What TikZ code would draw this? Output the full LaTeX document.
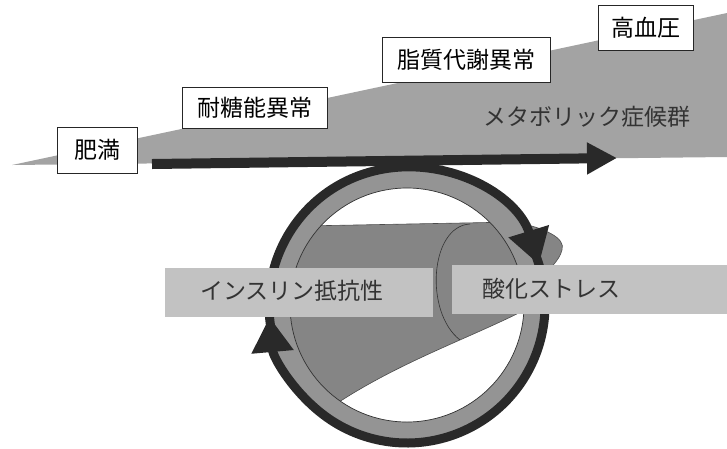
\documentclass[tikz,border=0pt]{standalone}
\usepackage{fontspec}
\setmainfont{Noto Sans CJK JP}
\usetikzlibrary{arrows.meta,calc}

\definecolor{wedgegray}{gray}{0.64}
\definecolor{conegray}{gray}{0.52}
\definecolor{ringgray}{gray}{0.58}
\definecolor{bandgray}{gray}{0.76}
\definecolor{darkline}{gray}{0.16}

\begin{document}
\begin{tikzpicture}[x=1pt, y=-1pt,
        stage/.style={draw=black!85, line width=0.9pt, fill=white, inner sep=0pt,
                      minimum height=45pt, font=\fontsize{23}{23}\selectfont},
        label/.style={inner sep=0pt, text=black!80, font=\fontsize{23}{23}\selectfont},
        flow/.style={draw=darkline, line width=10pt, -{Triangle[length=30pt, width=30pt]}},
        ringarrow/.style={draw=darkline, line width=9pt, -{Triangle[length=35pt, width=40pt]}}]
    \useasboundingbox (0,0) rectangle (727,448);

    \fill[wedgegray] (12,165) -- (727,13) -- (727,157) -- cycle;
    \node[stage, minimum width=80pt, minimum height=46pt] (obesity) at (97,150) {肥満};
    \node[stage, minimum width=145pt, minimum height=41pt] (glucose) at (254.5,107.5) {耐糖能異常};
    \node[stage, minimum width=168pt] (lipid) at (466,59.5) {脂質代謝異常};
    \node[stage, minimum width=95pt] (pressure) at (645.5,27.5) {高血圧};
    \node[label] (metabolic) at (587,117) {メタボリック症候群};

    \coordinate (trend start) at (152,164);
    \coordinate (trend end) at (617,158);
    \draw[flow] (trend start) -- (trend end);

    \coordinate (ring) at (407,305);
    \filldraw[conegray, draw=black!70, line width=0.6pt]
        (302,226) -- (515,222) .. controls (545,228) and (566,238) .. (562,250)
        .. controls (559,262) and (548,268) .. (545,278) -- (538,303)
        .. controls (480,335) and (400,360) .. ($(ring)+(127:130)$)
        arc[start angle=127, end angle=217, radius=130] -- cycle;
    \draw[black!80, line width=0.6pt] (470,224) .. controls (430,226) and (424,312) .. (460,340);

    \fill[ringgray, even odd rule] (ring) circle[radius=140] (ring) circle[radius=117];
    \draw[black!80, line width=0.7pt] (ring) circle[radius=117];
    \draw[ringarrow] ($(ring)+(165:138)$) arc[start angle=165, end angle=343, radius=138];
    \draw[ringarrow] ($(ring)+(335:138)$) arc[start angle=335, end angle=535, radius=138];

    \fill[bandgray] (165,268) rectangle (433,317);
    \fill[bandgray] (452,265) rectangle (727,314);
    \node[label] (insulin) at (292,291) {インスリン抵抗性};
    \node[label] (oxidative) at (551,289) {酸化ストレス};
\end{tikzpicture}
\end{document}
